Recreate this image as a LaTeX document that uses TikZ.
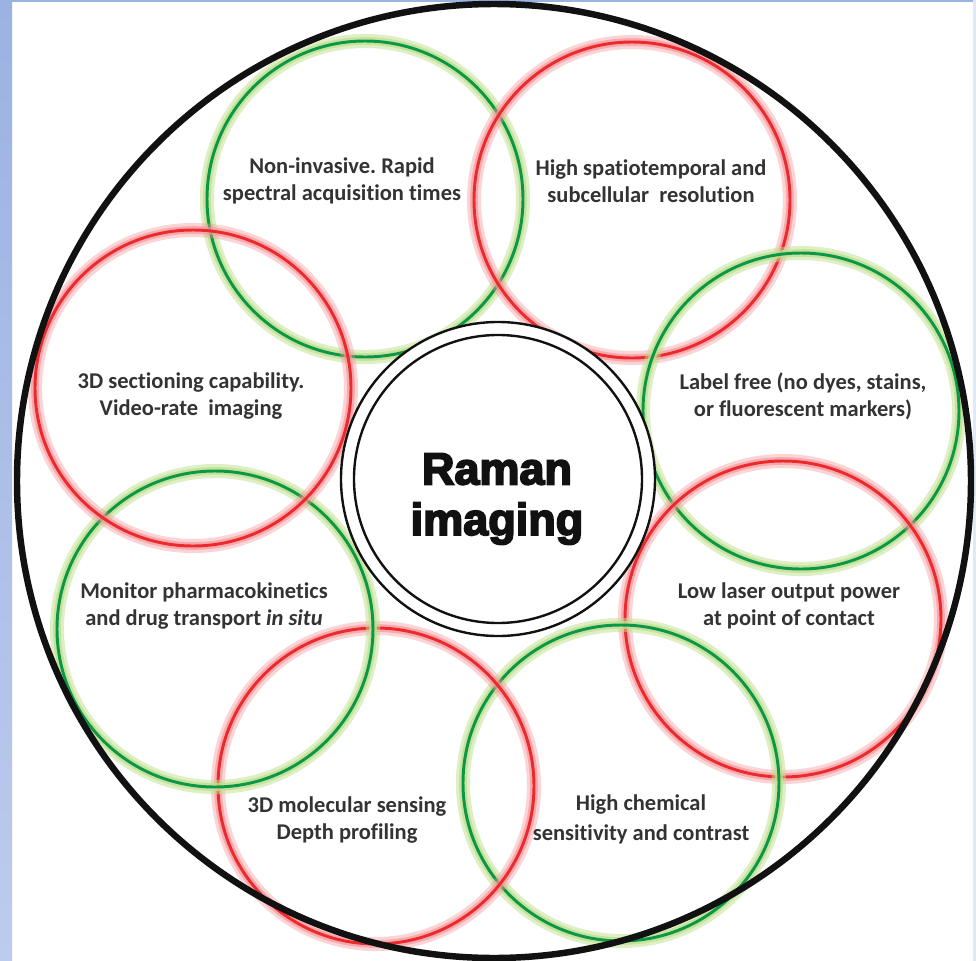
\documentclass[tikz,border=0pt]{standalone}
\usepackage{fontspec}
\setmainfont{Carlito}[Ligatures=CommonOff]
\newfontfamily\heavyfont[BoldFeatures={FakeBold=4}]{Liberation Sans}
\definecolor{ink}{HTML}{111111}
\definecolor{txt}{HTML}{333333}
\definecolor{ringred}{HTML}{EC2A2E}
\definecolor{ringgreen}{HTML}{0B9648}
\definecolor{glowred}{HTML}{F59599}
\definecolor{glowgreen}{HTML}{BFE08E}
\definecolor{frame}{HTML}{9AB3E2}
\definecolor{frame2}{HTML}{BDCBEE}
\tikzset{
  haloR/.style={draw=glowred,line width=10pt,opacity=.4},
  haloG/.style={draw=glowgreen,line width=10pt,opacity=.5},
  glowr/.style={draw=glowred,line width=5.5pt,opacity=.65},
  glowg/.style={draw=glowgreen,line width=5.5pt,opacity=.75},
  ringr/.style={draw=ringred,line width=2.1pt},
  ringg/.style={draw=ringgreen,line width=2.1pt},
  feat/.style={align=center,font=\bfseries\fontsize{16}{19.4}\selectfont,text=txt,inner sep=0pt},
  hub/.style={align=center,font=\heavyfont\bfseries\fontsize{32}{36}\selectfont,text=ink,inner sep=0pt},
}
\frenchspacing

\begin{document}
\begin{tikzpicture}[x=0.025cm,y=-0.025cm]
  \useasboundingbox (0,0) rectangle (976,961);
  % ── page and frame ──
  \fill[white] (0,0) rectangle (976,961);
  \shade[top color=frame,bottom color=frame2] (0,0) rectangle (12,961);
  \fill[frame] (0,0) rectangle (976,2);
  \fill[frame2!45] (973,0) rectangle (976,961);

  % ── the eight rings: x/y/colour ──
  \foreach \x/\y/\c/\h [count=\i] in {365/199/g/G,632/200/r/R,801/411/g/G,783/619/r/R,621/783/g/G,376/786/r/R,215/629/g/G,193/388/r/R} {
    \coordinate (c\i) at (\x,\y);
    \draw[halo\h] (c\i) circle[radius=158];
    \draw[glow\c] (c\i) circle[radius=158];
    \draw[ring\c] (c\i) circle[radius=158];
  }

  % ── outer rim and hub ──
  \draw[ink,line width=4.6pt] (494,481) circle[radius=477];
  \draw[ink,line width=1.7pt,fill=white] (498,479) circle[radius=157];
  \draw[ink,line width=1.7pt] (498,479) circle[radius=144];
  \node[hub] (raman) at (497,499) {Raman\\imaging};

  % ── labels ──
  \node[feat] (noninv) at (342,181) {Non-invasive. Rapid\\spectral acquisition times};
  \node[feat] (spatio) at (651,181) {High spatiotemporal and\\subcellular\ \ resolution};
  \node[feat] (labelfree) at (803,396) {Label free (no dyes, stains,\\or fluorescent markers)};
  \node[feat] (laser) at (789,606) {Low laser output power\\at point of contact};
  \node[feat] (chem) at (641,819) {High chemical\\[2pt]sensitivity and contrast};
  \node[feat] (molec) at (347,820) {3D molecular sensing\\Depth profiling};
  \node[feat] (pharma) at (204,606) {Monitor pharmacokinetics\\and drug transport \textit{in situ}};
  \node[feat] (section) at (191,396) {3D sectioning capability.\\Video-rate\ \ imaging};
\end{tikzpicture}
\end{document}
